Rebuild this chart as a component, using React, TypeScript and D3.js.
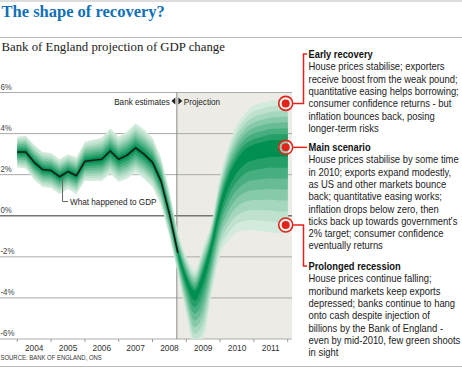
import React from 'react';
import * as d3 from 'd3';

// ---------- DATA ----------
const yTicks = [6, 4, 2, 0, -2, -4, -6];
const yearLabels = ['2004', '2005', '2006', '2007', '2008', '2009', '2010', '2011'];

const histQuarters = [
  '2004Q1', '2004Q2', '2004Q3', '2004Q4',
  '2005Q1', '2005Q2', '2005Q3', '2005Q4',
  '2006Q1', '2006Q2', '2006Q3', '2006Q4',
  '2007Q1', '2007Q2', '2007Q3', '2007Q4',
  '2008Q1', '2008Q2', '2008Q3', '2008Q4',
];
const gdpGrowth = [
  3.1, 3.1, 2.6, 2.25, 2.2, 1.9, 2.15, 1.95, 2.65, 2.7, 2.75, 3.15,
  2.75, 2.95, 3.3, 3.0, 2.6, 1.7, 0.1, -1.8,
];
const histHalfWidth = [
  0.75, 0.8, 0.85, 0.85, 0.85, 0.85, 0.85, 0.9, 0.95, 1.0, 1.05, 1.1,
  1.1, 1.15, 1.2, 1.2, 1.2, 1.15, 1.1, 1.0,
];

const projQuarters = [
  '2008Q4', '2009Q1', '2009Q2', '2009Q3', '2009Q4',
  '2010Q1', '2010Q2', '2010Q3', '2010Q4',
  '2011Q1', '2011Q2', '2011Q3', '2011Q4', '2012Q1',
];
const projCentral = [-1.8, -3.1, -3.8, -2.9, -1.4, 0.4, 1.7, 2.5, 3.0, 3.2, 3.3, 3.4, 3.4, 3.4];
const projUpper = [-0.8, -2.0, -2.65, -1.5, -0.3, 1.9, 3.4, 4.4, 5.0, 5.35, 5.5, 5.6, 5.65, 5.7];
const projLower = [-2.8, -4.8, -6.4, -6.0, -3.8, -1.9, -1.2, -0.8, -0.7, -0.7, -0.75, -0.8, -0.85, -0.85];

const scenarioNames = ['Early recovery', 'Main scenario', 'Prolonged recession'];
const scenarioMarkers = [5.47, 3.33, -0.45];
const scenarioTexts = [
  [
    'House prices stabilise; exporters',
    'receive boost from the weak pound;',
    'quantitative easing helps borrowing;',
    'consumer confidence returns - but',
    'inflation bounces back, posing',
    'longer-term risks',
  ],
  [
    'House prices stabilise by some time',
    'in 2010; exports expand modestly,',
    'as US and other markets bounce',
    'back; quantitative easing works;',
    'inflation drops below zero, then',
    "ticks back up towards government's",
    '2% target; consumer confidence',
    'eventually returns',
  ],
  [
    'House prices continue falling;',
    'moribund markets keep exports',
    'depressed; banks continue to hang',
    'onto cash despite injection of',
    'billions by the Bank of England -',
    'even by mid-2010, few green shoots',
    'in sight',
  ],
];

// ---------- LAYOUT / STYLE ----------
const W = 462;
const H = 368;
const plotTop = 92.5;
const plotBottom = 339;
const plotRight = 292;
const SANS = "'Liberation Sans', Arial, sans-serif";
const RED = '#e2231a';
const LEVELS = 8;
const lightGreen = '#d3ebdc';
const darkGreen = '#008f50';

const qToTime = (q: string) => +q.slice(0, 4) + (+q.slice(5) - 1) / 4;

type TProps = {
  x: number;
  y: number;
  size: number;
  sx?: number;
  anchor?: 'start' | 'middle' | 'end';
  bold?: boolean;
  fill?: string;
  children: React.ReactNode;
};

function T({ x, y, size, sx = 0.85, anchor = 'start', bold = false, fill = '#222', children }: TProps) {
  return (
    <text
      transform={`translate(${x},${y}) scale(${sx},1)`}
      textAnchor={anchor}
      fontFamily={SANS}
      fontSize={size}
      fontWeight={bold ? 'bold' : 'normal'}
      fill={fill}
    >
      {children}
    </text>
  );
}

export default function App() {
  const x = d3.scaleLinear().domain([2004, 2012]).range([17.3, 287.7]);
  const y = d3.scaleLinear().domain([-6, 6]).range([plotBottom, plotTop]);
  const color = (k: number) =>
    d3.interpolateRgb(lightGreen, darkGreen)(Math.pow((LEVELS - k) / (LEVELS - 1), 1.2));

  const hist = histQuarters.map((q, i) => ({ t: qToTime(q), v: gdpGrowth[i], w: histHalfWidth[i] }));
  const proj = projQuarters.map((q, i) => ({
    t: qToTime(q), c: projCentral[i], u: projUpper[i], l: projLower[i],
  }));

  const levels = d3.range(LEVELS, 0, -1);

  const histArea = (k: number) =>
    d3.area<any>()
      .x((d) => x(d.t))
      .y0((d) => y(d.v - (d.w * k) / LEVELS))
      .y1((d) => y(d.v + (d.w * k) / LEVELS))(hist) || '';

  const projArea = (k: number) =>
    d3.area<any>()
      .curve(d3.curveMonotoneX)
      .x((d) => x(d.t))
      .y0((d) => y(d.c - ((d.c - d.l) * k) / LEVELS))
      .y1((d) => y(d.c + ((d.u - d.c) * k) / LEVELS))(proj) || '';

  const line = d3.line<any>().x((d) => x(d.t)).y((d) => y(d.v))(hist) || '';

  const projStartX = x(qToTime(projQuarters[0])) - 1;
  const markerX = x(qToTime(projQuarters[projQuarters.length - 1])) - 2;
  const bracketX = 303.5;
  const textX = 308.5;
  const lh = 12.3;
  const titleBaselines = [58, 151, 270];

  const leaderPoint = hist[5];

  return (
    <svg
      width={W}
      height={H}
      viewBox={`0 0 ${W} ${H}`}
      style={{ position: 'absolute', left: 0, top: 0, background: '#fff' }}
    >
      <defs>
        <clipPath id="plotClip">
          <rect x={0} y={plotTop} width={plotRight} height={plotBottom - plotTop} />
        </clipPath>
      </defs>

      {/* Header */}
      <line x1={0} x2={W} y1={1} y2={1} stroke="#bbb" strokeWidth={1} />
      <text x={1.5} y={16.7} fontFamily="'Liberation Serif', serif" fontWeight="bold" fontSize={16.5} fill="#1170b8">
        The shape of recovery?
      </text>
      <line x1={0} x2={W} y1={37.5} y2={37.5} stroke="#bbb" strokeWidth={1} />
      <text x={1.5} y={50.5} fontFamily="'Liberation Serif', serif" fontSize={12.8} fill="#222">
        Bank of England projection of GDP change
      </text>

      {/* Projection background */}
      <rect x={projStartX} y={plotTop} width={plotRight - projStartX} height={plotBottom - plotTop} fill="#ecebe6" />

      {/* Grid */}
      {yTicks.map((t) => (
        <g key={t}>
          <line
            x1={0}
            x2={plotRight}
            y1={y(t)}
            y2={y(t)}
            stroke={t === 0 ? '#777' : '#aaa'}
            strokeWidth={t === 0 ? 1.6 : 1}
          />
          <T x={0.5} y={y(t) - 3} size={9.2} fill="#444">
            {`${t}%`}
          </T>
        </g>
      ))}

      {/* Divider */}
      <line x1={projStartX} x2={projStartX} y1={plotTop} y2={plotBottom} stroke="#888" strokeWidth={1} />

      {/* Fans */}
      <g clipPath="url(#plotClip)">
        {levels.map((k) => (
          <path key={`p${k}`} d={projArea(k)} fill={color(k)} />
        ))}
        {levels.map((k) => (
          <path key={`h${k}`} d={histArea(k)} fill={color(k)} />
        ))}
      </g>

      {/* GDP line */}
      <path d={line} fill="none" stroke="#1a1a1a" strokeWidth={1.6} strokeLinejoin="round" />

      {/* What happened to GDP */}
      <polyline
        points={`${x(leaderPoint.t) + 3},${y(leaderPoint.v) + 1} ${x(leaderPoint.t) + 3},${201.5} ${x(leaderPoint.t) + 8.5},${201.5}`}
        fill="none"
        stroke="#666"
        strokeWidth={1}
      />
      <T x={x(leaderPoint.t) + 10.5} y={205} size={9.6}>
        What happened to GDP
      </T>

      {/* Bank estimates / Projection label */}
      <T x={projStartX - 7} y={105} size={9.6} anchor="end">
        Bank estimates
      </T>
      <path
        d={`M${projStartX - 1.5},${97.5} L${projStartX - 1.5},${104.5} L${projStartX - 5.5},${101} Z`}
        fill="#222"
      />
      <path
        d={`M${projStartX + 1.5},${97.5} L${projStartX + 1.5},${104.5} L${projStartX + 5.5},${101} Z`}
        fill="#222"
      />
      <T x={projStartX + 7} y={105} size={9.6}>
        Projection
      </T>

      {/* X axis ticks and labels */}
      {d3.range(2004, 2013).map((yr) => (
        <line key={yr} x1={x(yr)} x2={x(yr)} y1={plotBottom} y2={plotBottom + 3} stroke="#999" strokeWidth={1} />
      ))}
      {yearLabels.map((lab) => (
        <T key={lab} x={x(+lab + 0.5)} y={350.5} size={9.8} anchor="middle" fill="#333">
          {lab}
        </T>
      ))}

      {/* Source */}
      <T x={0.5} y={359.5} size={7} fill="#333">
        SOURCE: BANK OF ENGLAND, ONS
      </T>
      <line x1={0} x2={W} y1={366.5} y2={366.5} stroke="#bbb" strokeWidth={1} />

      {/* Scenario annotations */}
      {scenarioNames.map((name, i) => {
        const my = y(scenarioMarkers[i]);
        const tb = titleBaselines[i];
        const ty = tb - 4;
        const bracket =
          i === 1
            ? `M${markerX + 7.5},${my} L${textX - 1.5},${my}`
            : `M${markerX + 7.5},${my} L${bracketX},${my} L${bracketX},${ty} L${textX - 1.5},${ty}`;
        return (
          <g key={name}>
            <path d={bracket} fill="none" stroke={RED} strokeWidth={1.5} />
            <circle cx={markerX} cy={my} r={7} fill="rgba(255,255,255,0.55)" stroke={RED} strokeWidth={1.6} />
            <circle cx={markerX} cy={my} r={4} fill={RED} />
            <T x={textX} y={tb} size={10.6} sx={0.88} bold fill="#111">
              {name}
            </T>
            {scenarioTexts[i].map((ln, j) => (
              <T key={j} x={textX} y={tb + (j + 1) * lh} size={10.6} sx={0.89}>
                {ln}
              </T>
            ))}
          </g>
        );
      })}
    </svg>
  );
}
